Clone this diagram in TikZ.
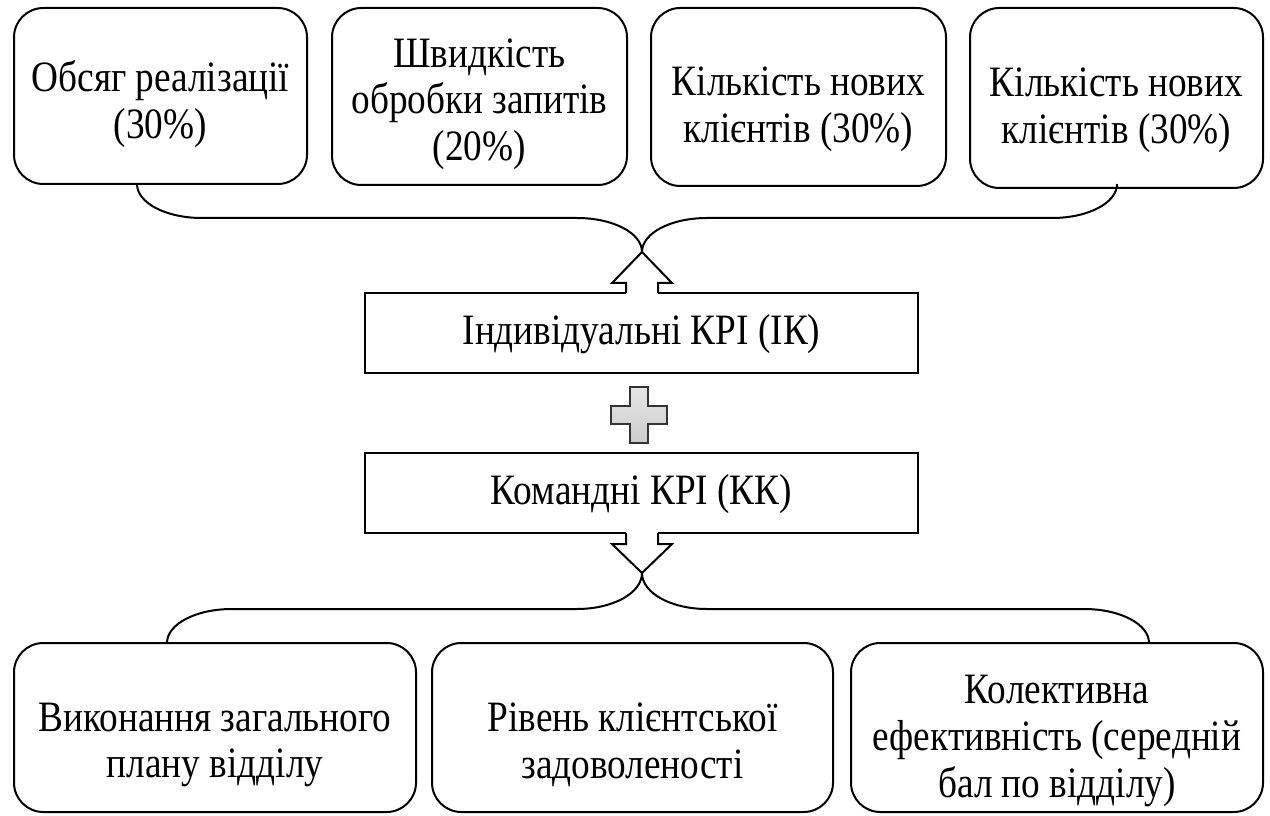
\documentclass[tikz,border=0pt]{standalone}
\usepackage{fontspec}
\setmainfont{Liberation Serif}[FakeStretch=0.86]
\begin{document}
\begin{tikzpicture}[x=0.75pt,y=-0.75pt,
  rbox/.style={draw,line width=1.5pt,rounded corners=22pt,inner sep=0pt},
  sbox/.style={draw,line width=1.5pt,inner sep=0pt},
  lbl/.style={align=center,inner sep=0pt,font=\fontsize{32.5}{35}\selectfont},
  brace/.style={line width=1.5pt},
  blockarrow/.style={line width=1.5pt,line join=miter}]
\useasboundingbox (0,0) rectangle (1270,816);
% top boxes
\node[rbox,minimum width=219.75pt,minimum height=132pt] (b1) at (160.5,96) {};
\node[rbox,minimum width=221.25pt,minimum height=132.75pt] (b2) at (479.5,96.5) {};
\node[rbox,minimum width=221.25pt,minimum height=133.5pt] (b3) at (798.5,97) {};
\node[rbox,minimum width=219.75pt,minimum height=135pt] (b4) at (1116.5,98) {};
\node[lbl] (t1) at (160.5,104) {Обсяг реалізації\\(30\%)};
\node[lbl] (t2) at (479.5,104) {Швидкість\\обробки запитів\\(20\%)};
\node[lbl] (t3) at (798.5,109) {Кількість нових\\клієнтів (30\%)};
\node[lbl] (t4) at (1116.5,110) {Кількість нових\\клієнтів (30\%)};
% middle boxes
\node[sbox,minimum width=414.75pt,minimum height=60pt] (m1) at (641.5,333) {};
\node[lbl] (tm1) at (641.5,334) {Індивідуальні КРІ (ІК)};
\node[sbox,minimum width=414.75pt,minimum height=60pt] (m2) at (641.5,493) {};
\node[lbl] (tm2) at (641.5,494) {Командні КРІ (КК)};
% bottom boxes
\node[rbox,minimum width=301.5pt,minimum height=126.75pt] (c1) at (215,727.5) {};
\node[rbox,minimum width=300.75pt,minimum height=126.75pt] (c2) at (632.5,727.5) {};
\node[rbox,minimum width=309pt,minimum height=126.75pt] (c3) at (1057,727.5) {};
\node[lbl] (u1) at (215,745) {Виконання загального\\плану відділу};
\node[lbl] (u2) at (632.5,745) {Рівень клієнтської\\задоволеності};
\node[lbl] (u3) at (1057,741) {Колективна\\ефективність (середній\\бал по відділу)};
% coordinates
\coordinate (tipU) at (642,252);
\coordinate (tipD) at (642,573);
\coordinate (bl) at (137,184);
\coordinate (br) at (1117,184);
\coordinate (cl) at (167,643);
\coordinate (cr) at (1149,643);
% top brace
\draw[brace] (bl) .. controls (137,203) and (166,218) .. (202,218) -- (577,218)
  .. controls (613,218) and (642,233) .. (tipU)
  .. controls (642,233) and (671,218) .. (707,218) -- (1052,218)
  .. controls (1088,218) and (1117,203) .. (br);
% up arrow
\fill[white] (626,296) -- (626,283) -- (612,283) -- (tipU) -- (672,283) -- (658,283) -- (658,296) -- cycle;
\draw[blockarrow] (626,293) -- (626,283) -- (612,283) -- (tipU) -- (672,283) -- (658,283) -- (658,293);
% plus
\draw[line width=1pt,draw=black!80,top color=gray!20,bottom color=gray!40]
  (630,387) -- (648,387) -- (648,406) -- (667,406) -- (667,424) -- (648,424) -- (648,443)
  -- (630,443) -- (630,424) -- (611,424) -- (611,406) -- (630,406) -- cycle;
% down arrow
\fill[white] (626,530) -- (626,544) -- (612,544) -- (tipD) -- (672,544) -- (658,544) -- (658,530) -- cycle;
\draw[blockarrow] (626,533) -- (626,544) -- (612,544) -- (tipD) -- (672,544) -- (658,544) -- (658,533);
% bottom brace
\draw[brace] (cl) .. controls (167,624) and (196,609) .. (232,609) -- (577,609)
  .. controls (613,609) and (642,593) .. (tipD)
  .. controls (642,593) and (671,609) .. (707,609) -- (1084,609)
  .. controls (1120,609) and (1149,624) .. (cr);
\end{tikzpicture}
\end{document}
